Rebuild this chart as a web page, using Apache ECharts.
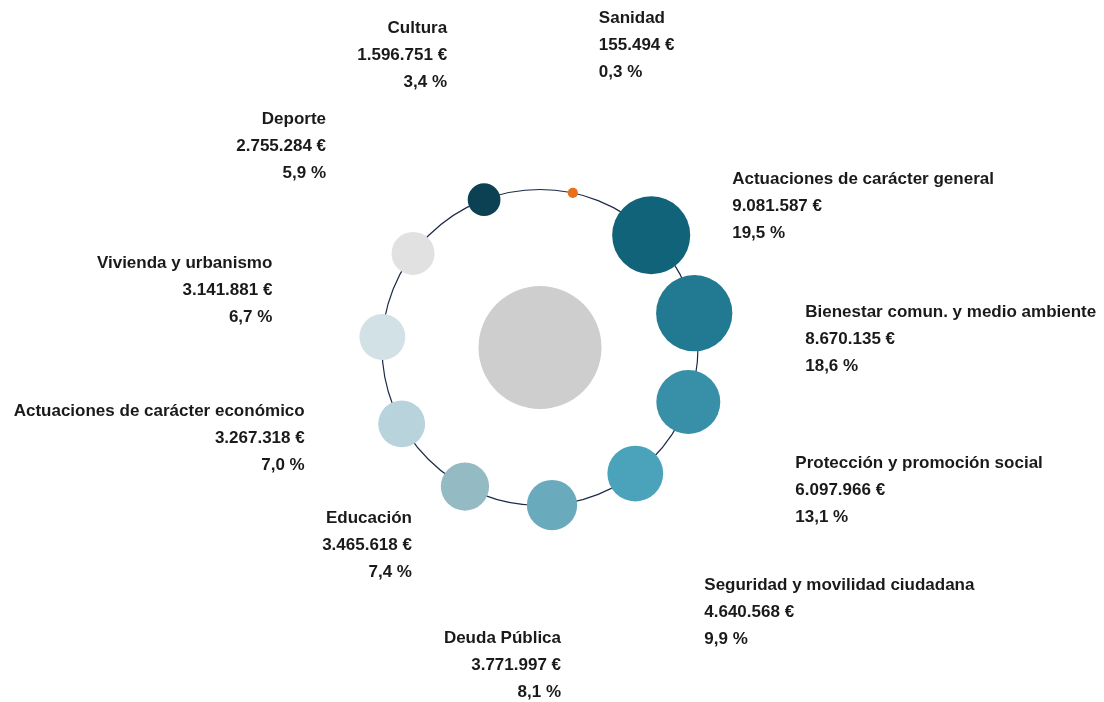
<!DOCTYPE html>
<html>
<head>
<meta charset="utf-8">
<style>
  html, body { margin: 0; padding: 0; background: #ffffff; }
  #chart { width: 1104px; height: 702px; }
</style>
<script src="https://cdn.jsdelivr.net/npm/echarts@6/dist/echarts.min.js"></script>
</head>
<body>
<div id="chart"></div>
<script>
// Spending areas, amounts (€) and share of total (%)
const categories = [
  'Sanidad',
  'Actuaciones de carácter general',
  'Bienestar comun. y medio ambiente',
  'Protección y promoción social',
  'Seguridad y movilidad ciudadana',
  'Deuda Pública',
  'Educación',
  'Actuaciones de carácter económico',
  'Vivienda y urbanismo',
  'Deporte',
  'Cultura'
];
const amounts = [155494, 9081587, 8670135, 6097966, 4640568, 3771997, 3465618, 3267318, 3141881, 2755284, 1596751];
const shares = [0.3, 19.5, 18.6, 13.1, 9.9, 8.1, 7.4, 7.0, 6.7, 5.9, 3.4];

// Styling per bubble
const colors = ['#e8701a', '#11637a', '#227a92', '#378fa8', '#4ba3bb', '#6aaabd',
                '#94bac4', '#b8d3db', '#d2e1e6', '#e1e1e1', '#0b4152'];
// Label anchor offsets from each bubble centre, and text alignment
const labelOffsets = [[26, -148], [81, -29], [111, 26], [107, 88], [69, 139], [9, 160],
                      [-53, 59], [-97, 14], [-110, -47], [-87, -107], [-37, -144]];
const labelAlign = ['left', 'left', 'left', 'left', 'left', 'right',
                    'right', 'right', 'right', 'right', 'right'];

const START_ANGLE = 12;          // angle of the first bubble, degrees clockwise from top
const STEP = 360 / categories.length;
const SIZE_K = 25.9;             // diameter per sqrt(million €)

function fmtInt(n) {
  return String(n).replace(/\B(?=(\d{3})+(?!\d))/g, '.');
}
function fmtPct(p) {
  return p.toFixed(1).replace('.', ',');
}
function diameter(v) {
  return SIZE_K * Math.sqrt(v / 1e6);
}

const bubbleData = categories.map((name, i) => {
  const r = diameter(amounts[i]) / 2;
  return {
    name: name,
    value: [1, START_ANGLE + i * STEP],
    itemStyle: { color: colors[i], opacity: 1 },
    label: {
      show: true,
      // position is measured from the top-left corner of the symbol's box
      position: [r + labelOffsets[i][0], r + labelOffsets[i][1]],
      align: labelAlign[i],
      verticalAlign: 'middle',
      color: '#1a1a1a',
      fontFamily: 'Liberation Sans, Arial, sans-serif',
      fontWeight: 'bold',
      fontSize: 17,
      lineHeight: 27,
      formatter: name + '\n' + fmtInt(amounts[i]) + ' €\n' + fmtPct(shares[i]) + ' %'
    }
  };
});

const chart = echarts.init(document.getElementById('chart'), null, { renderer: 'canvas' });
chart.setOption({
  animation: false,
  backgroundColor: '#ffffff',
  polar: { center: [540, 347.5], radius: 158 },
  angleAxis: {
    type: 'value', min: 0, max: 360, startAngle: 90, clockwise: true,
    axisLine: { show: true, lineStyle: { color: '#1c2a48', width: 1.2 } },
    axisTick: { show: false }, axisLabel: { show: false }, splitLine: { show: false }
  },
  radiusAxis: {
    type: 'value', min: 0, max: 1, show: false,
    axisLine: { show: false }, axisTick: { show: false }, axisLabel: { show: false }, splitLine: { show: false }
  },
  series: [
    {
      // central disc
      type: 'scatter',
      coordinateSystem: 'polar',
      silent: true,
      symbolSize: 123,
      itemStyle: { color: '#cecece', opacity: 1 },
      data: [[0, 0]],
      z: 1
    },
    {
      type: 'scatter',
      coordinateSystem: 'polar',
      symbolSize: (val, params) => diameter(amounts[params.dataIndex]),
      itemStyle: { opacity: 1 },
      data: bubbleData,
      z: 3
    }
  ]
});
</script>
</body>
</html>
